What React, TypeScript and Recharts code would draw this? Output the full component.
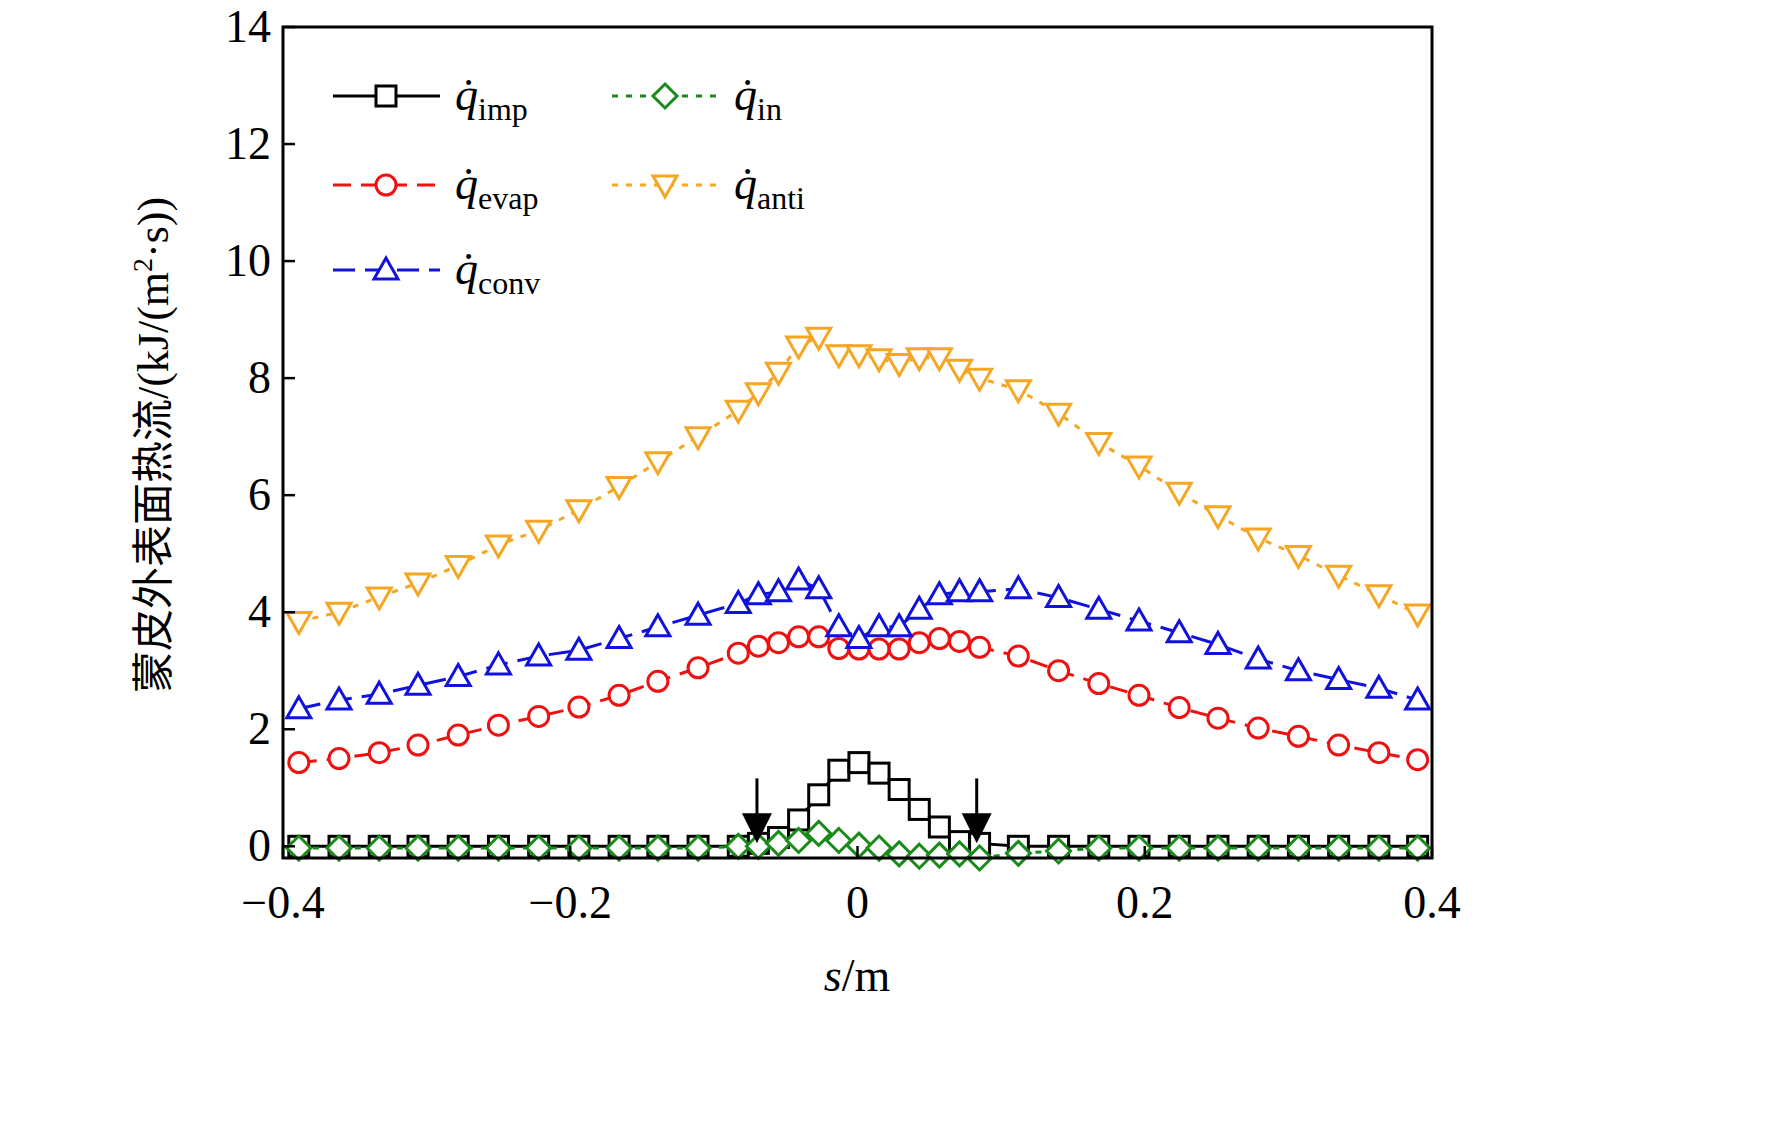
import React from 'react';
import { LineChart, Line, XAxis, YAxis, ReferenceDot } from 'recharts';

const S = [-0.389,-0.361,-0.333,-0.306,-0.278,-0.25,-0.222,-0.194,-0.166,-0.139,-0.111,-0.083,-0.069,-0.055,-0.041,-0.027,-0.013,0.001,0.015,0.029,0.043,0.057,0.071,0.085,0.112,0.14,0.168,0.196,0.224,0.251,0.279,0.307,0.335,0.363,0.39];
const qAnti = [3.84,4.0,4.26,4.5,4.8,5.15,5.4,5.75,6.15,6.57,7.0,7.45,7.75,8.1,8.55,8.7,8.4,8.4,8.33,8.25,8.35,8.35,8.15,8.0,7.8,7.4,6.9,6.5,6.05,5.65,5.27,4.97,4.63,4.3,3.97];
const qConv = [2.35,2.5,2.6,2.75,2.9,3.1,3.25,3.35,3.55,3.75,3.95,4.15,4.3,4.35,4.55,4.4,3.75,3.55,3.75,3.75,4.05,4.3,4.35,4.35,4.4,4.25,4.05,3.85,3.65,3.45,3.2,3.0,2.85,2.7,2.5];
const qEvap = [1.43,1.5,1.6,1.73,1.9,2.07,2.22,2.38,2.58,2.82,3.05,3.3,3.42,3.48,3.58,3.58,3.38,3.37,3.37,3.37,3.48,3.55,3.5,3.4,3.25,3.0,2.78,2.58,2.37,2.19,2.02,1.88,1.73,1.6,1.48];
const qImp = [0,0,0,0,0,0,0,0,0,0,0,0,0.05,0.15,0.45,0.88,1.3,1.43,1.25,0.97,0.63,0.33,0.08,0.05,0,0,0,0,0,0,0,0,0,0,0];
const qIn = [-0.03,-0.03,-0.03,-0.03,-0.03,-0.03,-0.03,-0.03,-0.03,-0.03,-0.03,0,0,0.05,0.1,0.22,0.1,0.02,-0.03,-0.13,-0.17,-0.15,-0.13,-0.2,-0.12,-0.08,-0.03,-0.03,-0.03,-0.03,-0.03,-0.03,-0.03,-0.03,-0.03];
const xTicks = [-0.4,-0.2,0,0.2,0.4];
const yTicks = [0,2,4,6,8,10,12,14];
const arrows = [-0.07,0.083];

const data = S.map((s, i) => ({ s, imp: qImp[i], inn: qIn[i], evap: qEvap[i], anti: qAnti[i], conv: qConv[i] }));

const FONT = '"Liberation Serif", "DejaVu Serif", serif';
const L = 275, R = 1424, T = 19, B = 850;

const mk = (kind: string, color: string) => (p: any) => {
  const { cx, cy, index } = p;
  if (cx == null || cy == null) return <g key={index} />;
  const sw = 3;
  if (kind === 'square') return <rect key={index} x={cx - 10} y={cy - 10} width={20} height={20} fill="#fff" stroke={color} strokeWidth={sw} />;
  if (kind === 'circle') return <circle key={index} cx={cx} cy={cy} r={10} fill="#fff" stroke={color} strokeWidth={sw} />;
  if (kind === 'diamond') return <path key={index} d={`M${cx},${cy - 12}L${cx + 12},${cy}L${cx},${cy + 12}L${cx - 12},${cy}Z`} fill="#fff" stroke={color} strokeWidth={sw} />;
  if (kind === 'up') return <path key={index} d={`M${cx},${cy - 12}L${cx + 12},${cy + 9}L${cx - 12},${cy + 9}Z`} fill="#fff" stroke={color} strokeWidth={sw} />;
  return <path key={index} d={`M${cx},${cy + 12}L${cx + 12},${cy - 9}L${cx - 12},${cy - 9}Z`} fill="#fff" stroke={color} strokeWidth={sw} />;
};

const YTick = (p: any) => {
  const { y, payload } = p;
  return (
    <g>
      <line x1={L} x2={L + 12} y1={y} y2={y} stroke="#000" strokeWidth={2.5} />
      <text x={L - 12} y={y} dy={15} textAnchor="end" fontFamily={FONT} fontSize={46} fill="#000">{payload.value}</text>
    </g>
  );
};
const XTick = (p: any) => {
  const { x, payload } = p;
  const v = payload.value;
  const lab = v === 0 ? '0' : (v < 0 ? '\u2212' + Math.abs(v).toFixed(1) : v.toFixed(1));
  return (
    <g>
      <line x1={x} x2={x} y1={B} y2={B - 12} stroke="#000" strokeWidth={2.5} />
      <text x={x} y={B + 60} textAnchor="middle" fontFamily={FONT} fontSize={46} fill="#000">{lab}</text>
    </g>
  );
};

const arrowShape = (p: any) => {
  const { cx, cy } = p;
  return (
    <g>
      <line x1={cx} x2={cx} y1={cy - 65} y2={cy - 20} stroke="#000" strokeWidth={3} />
      <path d={`M${cx - 15},${cy - 30}L${cx + 15},${cy - 30}L${cx},${cy}Z`} fill="#000" />
    </g>
  );
};

const LegendItem = ({ x, y, color, dash, kind, sub }: any) => {
  const m = mk(kind, color)({ cx: x + 53, cy: y, index: 0 });
  return (
    <g>
      <line x1={x} x2={x + 107} y1={y} y2={y} stroke={color} strokeWidth={3} strokeDasharray={dash} />
      {m}
      <text x={x + 122} y={y + 14} fontFamily={FONT} fontSize={46} fill="#000">
        <tspan fontStyle="italic">q̇</tspan><tspan fontSize={32} dy={10}>{sub}</tspan>
      </text>
    </g>
  );
};

export default function App() {
  return (
    <div style={{ position: 'relative', width: 1700, height: 1100 }}>
      <LineChart width={1700} height={1100} data={data} margin={{ top: T, right: 1700 - R, bottom: 1100 - B - 60, left: 175 }}>
        <XAxis dataKey="s" type="number" domain={[-0.4, 0.4]} ticks={xTicks} tick={<XTick />} tickLine={false} axisLine={false} height={60} />
        <YAxis type="number" domain={[0, 14]} ticks={yTicks} tick={<YTick />} tickLine={false} axisLine={false} width={100} />
        <Line dataKey="imp" stroke="#000" strokeWidth={3} dot={mk('square', '#000')} isAnimationActive={false} />
        <Line dataKey="inn" stroke="#1a8a1a" strokeWidth={3} strokeDasharray="6 8" dot={mk('diamond', '#1a8a1a')} isAnimationActive={false} />
        <Line dataKey="evap" stroke="#ee1111" strokeWidth={3} strokeDasharray="18 10" dot={mk('circle', '#ee1111')} isAnimationActive={false} />
        <Line dataKey="conv" stroke="#1111dd" strokeWidth={3} strokeDasharray="22 10" dot={mk('up', '#1111dd')} isAnimationActive={false} />
        <Line dataKey="anti" stroke="#f5a623" strokeWidth={3} strokeDasharray="6 8" dot={mk('down', '#f5a623')} isAnimationActive={false} />
        {arrows.map((a) => (
          <ReferenceDot key={a} x={a} y={0.05} r={0} shape={arrowShape} />
        ))}
      </LineChart>
      <svg width={1700} height={1100} style={{ position: 'absolute', left: 0, top: 0, pointerEvents: 'none' }}>
        <rect x={L} y={T} width={R - L} height={B - T} fill="none" stroke="#000" strokeWidth={3} />
        <LegendItem x={325} y={88} color="#000" dash="" kind="square" sub="imp" />
        <LegendItem x={604} y={88} color="#1a8a1a" dash="6 8" kind="diamond" sub="in" />
        <LegendItem x={325} y={177} color="#ee1111" dash="18 10" kind="circle" sub="evap" />
        <LegendItem x={604} y={177} color="#f5a623" dash="6 8" kind="down" sub="anti" />
        <LegendItem x={325} y={262} color="#1111dd" dash="22 10" kind="up" sub="conv" />
        <text x={849} y={983} textAnchor="middle" fontFamily={FONT} fontSize={46} fill="#000"><tspan fontStyle="italic">s</tspan>/m</text>
        <text transform="translate(160,437) rotate(-90)" textAnchor="middle" fontFamily={FONT} fontSize={44} fill="#000">
          <tspan fontFamily='"Noto Sans CJK SC", sans-serif' fontSize={42}>蒙皮外表面热流</tspan>/(kJ/(m<tspan fontSize={28} dy={-16}>2</tspan><tspan dy={16}>·s))</tspan>
        </text>
      </svg>
    </div>
  );
}
